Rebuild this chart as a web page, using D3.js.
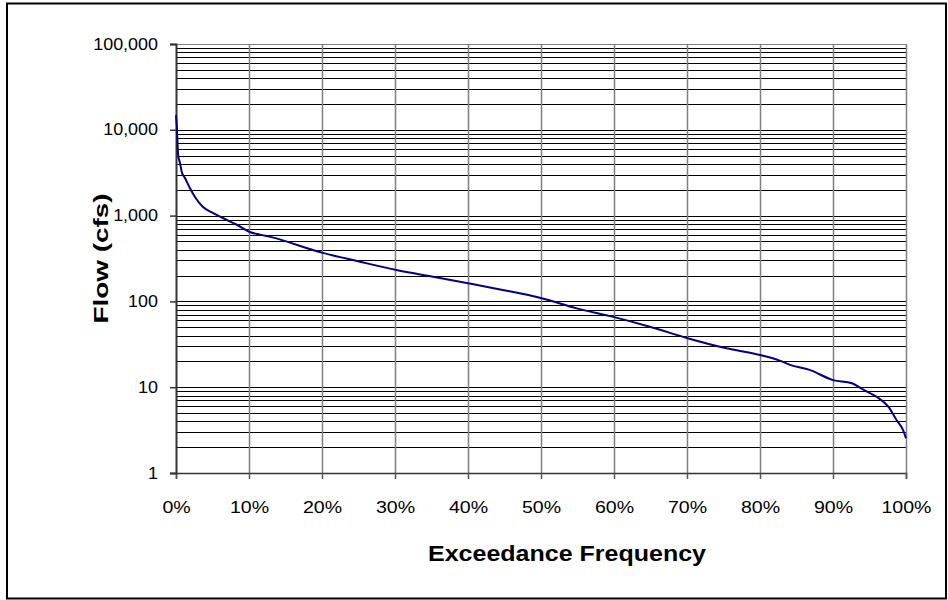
<!DOCTYPE html>
<html>
<head>
<meta charset="utf-8">
<script src="https://cdn.jsdelivr.net/npm/d3@7"></script>
<style>
  body { margin: 0; background: #fff; }
  svg { display: block; font-family: "Liberation Sans", Arial, sans-serif; }
</style>
</head>
<body>
<svg id="svg" width="948" height="600"></svg>
<script>
// exceedance frequency (%) and flow (cfs)
var exceedPct = [0, 0.1, 0.3, 0.55, 0.78, 1.23, 1.9, 2.6, 3.7, 5.1, 6.4, 8.4, 10.1, 11.5, 12.9,
  20, 25.2, 30.2, 35.2, 40, 44.4, 50.1, 54.9, 59.9, 64.9, 70.2, 75.4, 80, 82.7, 84.1, 86.8,
  90, 92.6, 94.2, 96, 97.6, 98.7, 99.6, 100];
var flowCfs = [14800, 11400, 5080, 4100, 3250, 2740, 2100, 1650, 1260, 1070, 938, 777, 644, 600, 565,
  370, 290, 232, 194, 163, 138, 109, 83, 66, 50.7, 37, 28.4, 23.7, 20.4, 18.2, 15.9,
  12.1, 11.1, 9.3, 7.7, 5.9, 4.15, 3.17, 2.54];
var xTicks = [0, 10, 20, 30, 40, 50, 60, 70, 80, 90, 100];
var yTicks = [1, 10, 100, 1000, 10000, 100000];

var svg = d3.select("#svg");
var padding = { top: 44, right: 42, bottom: 127, left: 176 };
var chartArea = { width: 948 - padding.left - padding.right, height: 600 - padding.top - padding.bottom };

// text in the original looks a bit wide
function widen(sel, k) {
  sel.each(function () {
    var w = this.getComputedTextLength();
    d3.select(this).attr("textLength", w * k).attr("lengthAdjust", "spacingAndGlyphs");
  });
}

// outer frame
svg.append("rect")
  .attr("x", 7).attr("y", 3.5).attr("width", 939).attr("height", 595)
  .attr("fill", "none").attr("stroke", "#000").attr("stroke-width", 2);

var xScale = d3.scaleLinear().domain([0, 100]).range([0, chartArea.width]);
var yScale = d3.scaleLog().domain([1, 100000]).range([chartArea.height, 0]);

var g = svg.append("g")
  .attr("transform", "translate(" + padding.left + "," + padding.top + ")");

// horizontal grid: every minor log step
var minor = [];
yTicks.slice(0, -1).forEach(function (d) {
  for (var k = 1; k < 10; k++) minor.push(d * k);
});
minor.push(100000);
g.append("g").attr("class", "hgrid")
  .selectAll("line").data(minor).enter().append("line")
  .attr("x1", 0).attr("x2", chartArea.width)
  .attr("y1", function (d) { return Math.round(yScale(d)) + 0.5; })
  .attr("y2", function (d) { return Math.round(yScale(d)) + 0.5; })
  .attr("stroke", function (d) { return d === 100000 ? "#808080" : "#000"; })
  .attr("stroke-width", 1);

// vertical grid
g.append("g").attr("class", "vgrid")
  .selectAll("line").data(xTicks.slice(1)).enter().append("line")
  .attr("x1", function (d) { return Math.round(xScale(d)) + 0.5; })
  .attr("x2", function (d) { return Math.round(xScale(d)) + 0.5; })
  .attr("y1", 0).attr("y2", chartArea.height)
  .attr("stroke", "#808080").attr("stroke-width", 1.5);

//x-axis
var xAxis = g.append("g")
  .attr("transform", "translate(0," + chartArea.height + ")")
  .call(d3.axisBottom(xScale).tickValues(xTicks).tickSize(6).tickPadding(22)
    .tickFormat(function (d) { return d + "%"; }));
xAxis.select(".domain").attr("stroke", "#333").attr("stroke-width", 1.5);
xAxis.selectAll(".tick line").attr("stroke", "#555").attr("stroke-width", 1.5);
xAxis.selectAll("text").attr("font-size", 17).attr("fill", "#000").call(widen, 1.15);

//y-axis
var yAxis = g.append("g")
  .call(d3.axisLeft(yScale).tickValues(yTicks).tickSize(6).tickPadding(12)
    .tickFormat(d3.format(",")));
yAxis.select(".domain").attr("stroke", "#333").attr("stroke-width", 2);
yAxis.selectAll(".tick line").attr("stroke", "#333").attr("stroke-width", 1.5);
yAxis.selectAll("text").attr("font-size", 16).attr("fill", "#000").call(widen, 1.12);

// flow duration curve
var line = d3.line()
  .x(function (d, i) { return xScale(exceedPct[i]); })
  .y(function (d) { return yScale(d); })
  .curve(d3.curveMonotoneX);
g.append("path")
  .datum(flowCfs)
  .attr("d", line)
  .attr("fill", "none")
  .attr("stroke", "#000080")
  .attr("stroke-width", 2);

// axis titles
svg.append("text")
  .attr("transform", "translate(108," + (padding.top + chartArea.height / 2) + ") rotate(-90)")
  .attr("text-anchor", "middle")
  .attr("font-size", 21).attr("font-weight", "bold")
  .attr("textLength", 130).attr("lengthAdjust", "spacingAndGlyphs")
  .text("Flow (cfs)");
svg.append("text")
  .attr("x", 567).attr("y", 561)
  .attr("text-anchor", "middle")
  .attr("font-size", 22).attr("font-weight", "bold")
  .attr("textLength", 278).attr("lengthAdjust", "spacingAndGlyphs")
  .text("Exceedance Frequency");
</script>
</body>
</html>
